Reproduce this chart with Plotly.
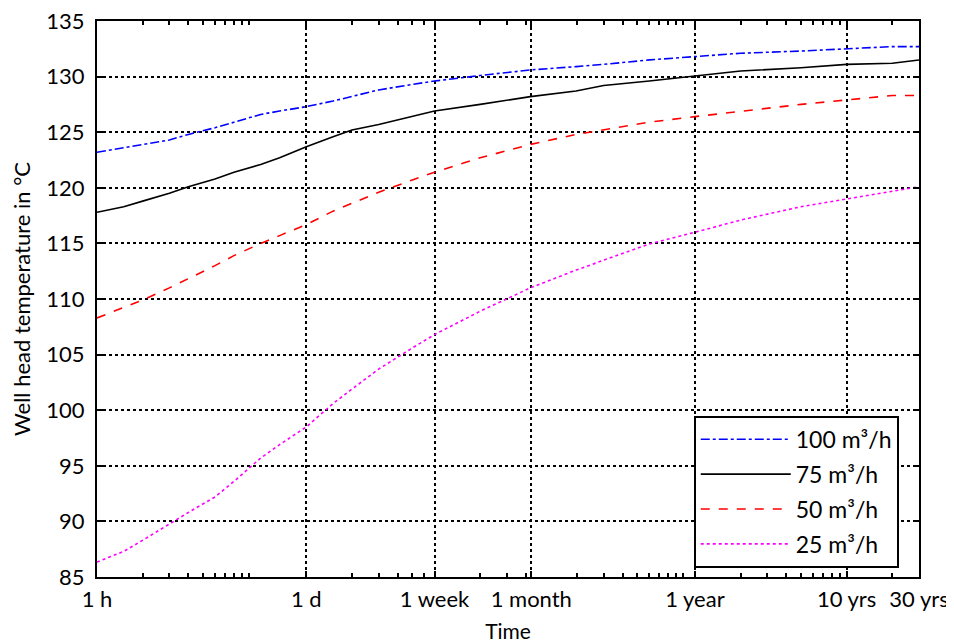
import math
import plotly.graph_objects as go

# time in hours
hours = [1, 1.5, 2, 3, 4, 6, 8, 12, 16, 24, 36, 48, 72, 120, 168, 336, 720, 1440,
         2190, 4380, 8760, 17520, 43800, 87600, 175200, 262800]

temp_100 = [123.2, 123.6, 123.9, 124.3, 124.8, 125.4, 125.9, 126.6, 126.9, 127.3, 127.8,
            128.2, 128.8, 129.3, 129.6, 130.1, 130.6, 130.9, 131.1, 131.5, 131.8, 132.1,
            132.3, 132.5, 132.7, 132.7]
temp_75 = [117.8, 118.3, 118.8, 119.5, 120.1, 120.8, 121.4, 122.1, 122.7, 123.7, 124.6,
           125.2, 125.7, 126.4, 126.9, 127.5, 128.2, 128.7, 129.2, 129.6, 130.05, 130.5,
           130.8, 131.1, 131.2, 131.5]
temp_50 = [108.3, 109.2, 109.9, 111.0, 111.8, 113.0, 113.9, 115.0, 115.7, 116.7, 117.9,
           118.6, 119.6, 120.7, 121.4, 122.7, 123.9, 124.8, 125.2, 125.9, 126.4, 126.9,
           127.5, 127.9, 128.3, 128.3]
temp_25 = [86.35, 87.3, 88.3, 89.8, 90.8, 92.2, 93.6, 95.7, 96.9, 98.5, 100.6, 101.9,
           103.7, 105.6, 106.8, 108.9, 111.0, 112.6, 113.5, 114.95, 116.0, 117.1, 118.3,
           119.0, 119.7, 120.1]

series_names = ["100 m³/h", "75 m³/h", "50 m³/h", "25 m³/h"]
series_colors = ["#0000ff", "#000000", "#ff0000", "#ff00ff"]
series_dash = ["dashdot", "solid", "dash", "dot"]

tick_vals = [1, 24, 168, 730, 8760, 87600, 262800]
tick_text = ["1 h", "1 d", "1 week", "1 month", "1 year", "10 yrs", "30 yrs"]

minor_vals = ([2, 3, 4, 5, 6, 7, 8, 9, 10]
              + [24 * k for k in (2, 3, 4, 5, 6)]
              + [168 * k for k in (2, 3, 4)]
              + [730 * k for k in (2, 3, 4, 5, 6, 7, 8, 9, 10)]
              + [8760 * k for k in (2, 3, 4, 5, 6, 7, 8, 9)]
              + [8760 * 20])

FONT = "Lato"
FS = 22

fig = go.Figure()
for i, (vals, name, col, dash) in enumerate(zip([temp_100, temp_75, temp_50, temp_25],
                                                 series_names, series_colors, series_dash)):
    fig.add_trace(go.Scatter(x=hours, y=vals, mode="lines", name=name,
                             legendgroup=f"g{i}",
                             line=dict(color=col, width=1.6, dash=dash)))

# page body has an 8px default margin; figure offset accounted for in margins
fig.update_layout(
    width=946, height=635,
    margin=dict(l=89, r=35, t=13, b=66),
    paper_bgcolor="white", plot_bgcolor="white",
    font=dict(family=FONT, size=FS, color="black"),
    showlegend=True,
    legend=dict(x=0.726, y=0.29, xanchor="left", yanchor="top",
                bgcolor="white", bordercolor="black", borderwidth=2,
                font=dict(family=FONT, size=23, color="black"),
                itemwidth=90, tracegroupgap=2),
)

fig.update_xaxes(
    type="log", range=[0, math.log10(262800)], automargin=False,
    tickmode="array", tickvals=tick_vals, ticktext=tick_text,
    ticks="inside", ticklen=6, tickwidth=1.5, tickcolor="black",
    showline=True, linecolor="black", linewidth=2, mirror="allticks",
    showgrid=True, gridcolor="black", griddash="dot", gridwidth=1.5,
    zeroline=False,
    tickfont=dict(family=FONT, size=FS),
    ticklabelstandoff=2, ticklabeloverflow="allow",
    minor=dict(tickmode="array", tickvals=minor_vals, ticks="inside",
               ticklen=4, tickwidth=1.5, tickcolor="black", showgrid=False),
    title=dict(text="Time", font=dict(family=FONT, size=21), standoff=30),
)
fig.update_yaxes(
    range=[85, 135], dtick=5, tick0=85, automargin=False,
    ticks="inside", ticklen=6, tickwidth=1.5, tickcolor="black",
    showline=True, linecolor="black", linewidth=2, mirror="allticks",
    showgrid=True, gridcolor="black", griddash="dot", gridwidth=1.5,
    zeroline=False,
    tickfont=dict(family=FONT, size=FS),
    ticklabelstandoff=6, ticklabeloverflow="allow",
    title=dict(text="Well head temperature in °C", font=dict(family=FONT, size=FS),
               standoff=12),
)

fig.write_html("out.html")
